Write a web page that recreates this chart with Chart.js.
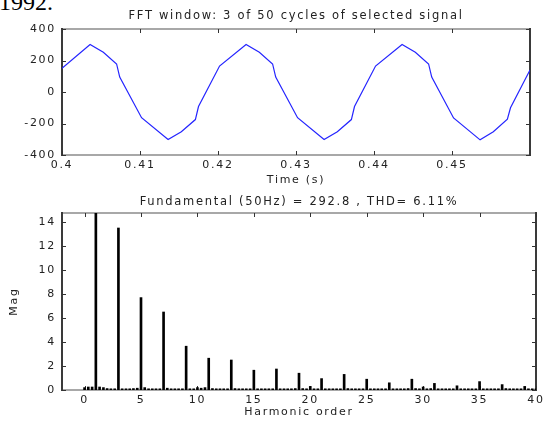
<!DOCTYPE html>
<html>
<head>
<meta charset="utf-8">
<script src="https://cdn.jsdelivr.net/npm/chart.js@4.4.1/dist/chart.umd.min.js"></script>
<style>
  body { margin: 0; background: #fff; }
  #page { position: relative; width: 545px; height: 421px; overflow: hidden; background: #fff; }
  #year { position: absolute; left: -1px; top: -10px; font: 24px/24px "Liberation Serif", serif; color: #000; }
  #wave { position: absolute; left: 0; top: 0; z-index: 2; }
  #harm { position: absolute; left: 0; top: 190px; z-index: 2; }
  .fr { position: absolute; z-index: 1; }
</style>
</head>
<body>
<div id="page">
  <div id="year">1992.</div>
  <canvas id="wave" width="545" height="200"></canvas>
  <canvas id="harm" width="545" height="231"></canvas>
</div>
<script>
// top plot: 3 cycles of the signal
var timeS = [0.4, 0.4036, 0.4053, 0.4070, 0.4074, 0.4102, 0.4136, 0.4153, 0.4171, 0.4175, 0.4202,
             0.4236, 0.4253, 0.4270, 0.4274, 0.4302, 0.4336, 0.4353, 0.4371, 0.4375, 0.4402,
             0.4436, 0.4453, 0.4470, 0.4474, 0.4502, 0.4536, 0.4553, 0.4571, 0.4575, 0.46];
var signal = [150, 302, 252, 178, 95, -163, -302, -252, -175, -92, 165,
              302, 252, 178, 95, -163, -302, -252, -175, -92, 165,
              302, 252, 178, 95, -165, -304, -252, -172, -100, 140];
var timeTicks = [0.4, 0.41, 0.42, 0.43, 0.44, 0.45];
var signalTicks = [-400, -200, 0, 200, 400];

// bottom plot: spectrum, 1/3 harmonic resolution
var harmOrder = [0, 0.33, 0.67, 1, 1.33, 1.67, 2, 2.33, 2.67, 3, 3.33, 3.67,
  4, 4.33, 4.67, 5, 5.33, 5.67, 6, 6.33, 6.67, 7, 7.33, 7.67,
  8, 8.33, 8.67, 9, 9.33, 9.67, 10, 10.33, 10.67, 11, 11.33, 11.67,
  12, 12.33, 12.67, 13, 13.33, 13.67, 14, 14.33, 14.67, 15, 15.33, 15.67,
  16, 16.33, 16.67, 17, 17.33, 17.67, 18, 18.33, 18.67, 19, 19.33, 19.67,
  20, 20.33, 20.67, 21, 21.33, 21.67, 22, 22.33, 22.67, 23, 23.33, 23.67,
  24, 24.33, 24.67, 25, 25.33, 25.67, 26, 26.33, 26.67, 27, 27.33, 27.67,
  28, 28.33, 28.67, 29, 29.33, 29.67, 30, 30.33, 30.67, 31, 31.33, 31.67,
  32, 32.33, 32.67, 33, 33.33, 33.67, 34, 34.33, 34.67, 35, 35.33, 35.67,
  36, 36.33, 36.67, 37, 37.33, 37.67, 38, 38.33, 38.67, 39, 39.33, 39.67, 40];
var harmMag = [0.2, 0.25, 0.25, 292.8, 0.25, 0.2, 0.12, 0.1, 0.1, 13.5, 0.1, 0.1,
  0.1, 0.12, 0.15, 7.7, 0.2, 0.1, 0.1, 0.1, 0.1, 6.5, 0.15, 0.1,
  0.1, 0.1, 0.1, 3.65, 0.1, 0.1, 0.2, 0.15, 0.2, 2.65, 0.12, 0.1,
  0.1, 0.1, 0.1, 2.5, 0.12, 0.1, 0.1, 0.1, 0.1, 1.65, 0.1, 0.1,
  0.1, 0.1, 0.1, 1.75, 0.1, 0.1, 0.1, 0.1, 0.12, 1.4, 0.12, 0.1,
  0.3, 0.1, 0.1, 0.95, 0.1, 0.1, 0.1, 0.1, 0.1, 1.3, 0.12, 0.1,
  0.1, 0.1, 0.1, 0.9, 0.1, 0.1, 0.1, 0.1, 0.1, 0.6, 0.1, 0.1,
  0.1, 0.1, 0.12, 0.9, 0.12, 0.1, 0.25, 0.1, 0.12, 0.55, 0.1, 0.1,
  0.1, 0.1, 0.1, 0.35, 0.1, 0.1, 0.1, 0.1, 0.1, 0.7, 0.1, 0.1,
  0.1, 0.1, 0.1, 0.45, 0.12, 0.1, 0.1, 0.1, 0.1, 0.3, 0.1, 0.1, 0.1];
var harmTicks = [0, 5, 10, 15, 20, 25, 30, 35, 40];
var magTicks = [0, 2, 4, 6, 8, 10, 12, 14];

var txt = '#222';
var fontSpec = {family: '"DejaVu Sans", sans-serif', size: 11};
var titleFont = {family: '"DejaVu Sans", sans-serif', size: 11.5, weight: 'normal', lineHeight: 1.2};

// wide letter spacing like the stretched matlab text
var spacing = {
  id: 'spacing',
  beforeLayout: function(c){ c.ctx.letterSpacing = '1.7px'; },
  beforeDraw: function(c){ c.ctx.letterSpacing = '1.7px'; }
};

function fixTicks(list){
  return function(scale){ scale.ticks = list.map(function(v){ return {value: v}; }); };
}

// matlab box + inward ticks, placed from the chart's own area and scales
function frame(chart, top){
  var page = document.getElementById('page');
  var a = chart.chartArea, xs = chart.scales.x, ys = chart.scales.y;
  function piece(l, t, w, h, col){
    var d = document.createElement('div');
    d.className = 'fr';
    d.style.left = l + 'px'; d.style.top = (top + t) + 'px';
    d.style.width = w + 'px'; d.style.height = h + 'px';
    d.style.background = col;
    page.appendChild(d);
  }
  var L = Math.round(a.left), R = Math.round(a.right), T = Math.round(a.top), B = Math.round(a.bottom);
  piece(L, T - 1, R - L, 2, '#a8a8a8');
  piece(L, B - 1, R - L, 2, '#a8a8a8');
  piece(L - 1, T - 1, 2, B - T + 2, '#3a3a3a');
  piece(R - 1, T - 1, 2, B - T + 2, '#3a3a3a');
  xs.ticks.forEach(function(t){
    var px = Math.round(xs.getPixelForValue(t.value));
    piece(px, T, 1, 4, '#333');
    piece(px, B - 4, 1, 4, '#333');
  });
  ys.ticks.forEach(function(t){
    var py = Math.round(ys.getPixelForValue(t.value));
    piece(L, py, 4, 1, '#333');
    piece(R - 4, py, 4, 1, '#333');
  });
}

var wave = new Chart(document.getElementById('wave'), {
  type: 'line',
  data: {
    datasets: [{
      data: timeS.map(function(t, i){ return {x: t, y: signal[i]}; }),
      borderColor: '#2424ff',
      borderWidth: 1.2,
      pointRadius: 0,
      tension: 0
    }]
  },
  options: {
    responsive: false,
    animation: false,
    layout: {padding: {left: 0, right: 15, top: 0, bottom: 0}},
    plugins: {
      legend: {display: false},
      tooltip: {enabled: false},
      title: {
        display: true, fullSize: false,
        text: 'FFT window: 3 of 50 cycles of selected signal',
        color: txt, font: titleFont, padding: {top: 8.9, bottom: 6.3}
      }
    },
    scales: {
      x: {
        type: 'linear', min: 0.4, max: 0.46,
        afterBuildTicks: fixTicks(timeTicks),
        afterFit: function(s){ s.height = 45; s.paddingLeft = 0; s.paddingRight = 0; },
        grid: {display: false, drawTicks: false},
        border: {display: false},
        ticks: {color: txt, font: fontSpec, padding: 3.4, maxRotation: 0, autoSkip: false,
                callback: function(v){ return String(v); }},
        title: {display: true, text: 'Time (s)', color: txt, font: fontSpec, padding: {top: 0, bottom: 13.4}}
      },
      y: {
        min: -400, max: 400,
        afterBuildTicks: fixTicks(signalTicks),
        afterFit: function(s){ s.width = 62; },
        grid: {display: false, drawTicks: false},
        border: {display: false},
        ticks: {color: txt, font: fontSpec, padding: 6, autoSkip: false}
      }
    }
  },
  plugins: [spacing]
});

var harm = new Chart(document.getElementById('harm'), {
  type: 'bar',
  data: {
    datasets: [{
      data: harmOrder.map(function(h, i){ return {x: h, y: harmMag[i]}; }),
      backgroundColor: '#000', borderWidth: 0, barThickness: 2
    }]
  },
  options: {
    responsive: false,
    animation: false,
    layout: {padding: {left: 0, right: 9, top: 0, bottom: 0}},
    plugins: {
      legend: {display: false},
      tooltip: {enabled: false},
      title: {display: true, fullSize: false, text: 'Fundamental (50Hz) = 292.8 , THD= 6.11%',
        color: txt, font: titleFont, padding: {top: 5.1, bottom: 4.1}}
    },
    scales: {
      x: {
        type: 'linear', min: -2, max: 40, offset: false,
        afterBuildTicks: fixTicks(harmTicks),
        afterFit: function(s){ s.height = 31; s.paddingLeft = 0; s.paddingRight = 0; },
        grid: {display: false, drawTicks: false, offset: false},
        border: {display: false},
        ticks: {color: txt, font: fontSpec, padding: 3.4, maxRotation: 0, autoSkip: false},
        title: {display: true, text: 'Harmonic order', color: txt, font: fontSpec, padding: {top: 0, bottom: 2.7}}
      },
      y: {
        min: 0, max: 14.75,
        afterBuildTicks: fixTicks(magTicks),
        afterFit: function(s){ s.width = 62; },
        grid: {display: false, drawTicks: false},
        border: {display: false},
        ticks: {color: txt, font: fontSpec, padding: 6, autoSkip: false},
        title: {display: true, text: 'Mag', color: txt, font: fontSpec, padding: {top: 7.4, bottom: 0}}
      }
    }
  },
  plugins: [spacing]
});

frame(wave, 0);
frame(harm, 190);
</script>
</body>
</html>
